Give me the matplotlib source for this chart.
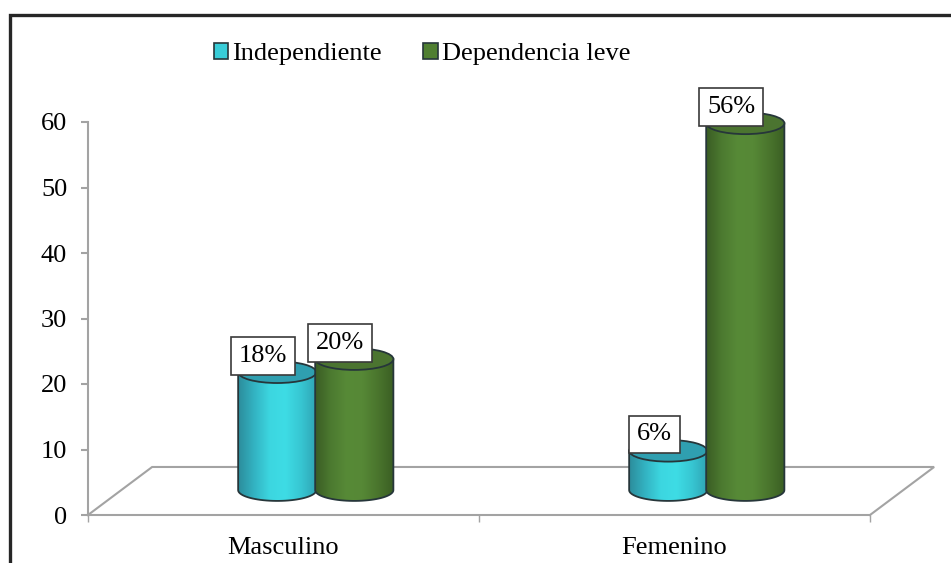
import numpy as np
import matplotlib
matplotlib.use("Agg")
import matplotlib.pyplot as plt
from matplotlib.colors import LinearSegmentedColormap
from matplotlib.patches import Ellipse, Patch, PathPatch
from matplotlib.path import Path

categories = ["Masculino", "Femenino"]
independiente = [18, 6]
dependencia = [20, 56]
series_names = ["Independiente", "Dependencia leve"]
y_ticks = [0, 10, 20, 30, 40, 50, 60]

plt.rcParams["font.family"] = ["Liberation Serif", "DejaVu Serif"]
FS = 19
GREY = "#a3a3a3"
EDGE = "#26363a"

# the pseudo 3d floor: cylinders stand a bit above the y=0 line
BASE = 3.8
BAR_W = 0.2
CAP = 1.65

blue_cmap = LinearSegmentedColormap.from_list(
    "blue3d", ["#2c8c9b", "#33b2c1", "#3cd6e0", "#3edce5", "#37c6d2", "#2fa3b3"])
green_cmap = LinearSegmentedColormap.from_list(
    "green3d", ["#3a5c24", "#4c7a30", "#578a37", "#568836", "#4a752d", "#3a5e23"])


def cylinder(ax, xc, value, cmap, top_color, z):
    left, right = xc - BAR_W / 2, xc + BAR_W / 2
    top = BASE + value

    # side of the cylinder with rounded bottom
    t = np.linspace(np.pi, 2 * np.pi, 40)
    bottom_x = xc + BAR_W / 2 * np.cos(t)
    bottom_y = BASE + CAP * np.sin(t)
    verts = [(left, top)] + list(zip(bottom_x, bottom_y)) + [(right, top), (left, top)]
    codes = [Path.MOVETO] + [Path.LINETO] * (len(verts) - 2) + [Path.CLOSEPOLY]
    body = PathPatch(Path(verts, codes), facecolor="none", edgecolor=EDGE, lw=1.3,
                     clip_on=False, zorder=z + 0.1)
    ax.add_patch(body)

    grad = np.linspace(0, 1, 256).reshape(1, -1)
    im = ax.imshow(grad, cmap=cmap, extent=(left, right, BASE - CAP, top), aspect="auto",
                   interpolation="bilinear", zorder=z)
    im.set_clip_path(body)

    ax.add_patch(Ellipse((xc, top), BAR_W, CAP * 2, facecolor=top_color, edgecolor=EDGE,
                         lw=1.3, clip_on=False, zorder=z + 0.2))
    return top


fig = plt.figure(figsize=(9.51, 5.63), dpi=100)
# axes box runs from x=88..870 and y=122..515 in pixels
ax = fig.add_axes([88 / 951, (563 - 515) / 563, (870 - 88) / 951, (515 - 122) / 563])

x = np.arange(len(categories))

# floor
ax.plot([-0.5, -0.336, 1.664, 1.5], [0, 7.33, 7.33, 0], color=GREY, lw=1.5,
        clip_on=False, zorder=1, solid_joinstyle="miter")

offsets = [-0.016, 0.181]
z = 3
for i, cat in enumerate(categories):
    top_a = cylinder(ax, x[i] + offsets[0], independiente[i], blue_cmap, "#2f9fb0", z)
    top_b = cylinder(ax, x[i] + offsets[1], dependencia[i], green_cmap, "#4b7430", z + 1)
    z += 2
    for xc, top, val in [(x[i] + offsets[0], top_a, independiente[i]),
                         (x[i] + offsets[1], top_b, dependencia[i])]:
        ax.annotate("{}%".format(val), (xc, top), xytext=(-10, 11.8), textcoords="offset points",
                    ha="center", va="center", fontsize=FS, zorder=20, annotation_clip=False,
                    bbox=dict(boxstyle="square,pad=0.3", fc="white", ec="#3a3a3a", lw=1.2))

ax.set_xlim(-0.5, 1.5)
ax.set_ylim(0, 60)
ax.set_yticks(y_ticks)
ax.set_xticks([-0.5, 0.5, 1.5])
ax.set_xticklabels([])
ax.set_xticks(x, labels=categories, minor=True)
ax.tick_params(axis="y", length=5, width=1.5, color=GREY, labelsize=FS, pad=10)
ax.tick_params(axis="x", which="major", length=5, width=1, color=GREY)
ax.tick_params(axis="x", which="minor", length=0, labelsize=FS, pad=16)

for s in ["top", "right"]:
    ax.spines[s].set_visible(False)
for s in ["left", "bottom"]:
    ax.spines[s].set_color(GREY)
    ax.spines[s].set_linewidth(1.5)

handles = [Patch(facecolor="#38cdd8", edgecolor=EDGE, lw=1.2),
           Patch(facecolor="#4f7f31", edgecolor=EDGE, lw=1.2)]
fig.legend(handles, series_names, ncol=2, frameon=False, fontsize=FS, loc="upper left",
           bbox_to_anchor=(214 / 951, 1 - 43 / 563), borderpad=0, borderaxespad=0,
           handlelength=0.54, handleheight=0.54, handletextpad=0.16, columnspacing=1.56)

# dark frame, only top and left edges are inside the image
fig.add_artist(plt.Line2D([10 / 951, 10 / 951, 1], [0, 1 - 15 / 563, 1 - 15 / 563],
                          color="#262626", lw=2.4, solid_joinstyle="miter"))

fig.savefig("out.png", dpi=100)
